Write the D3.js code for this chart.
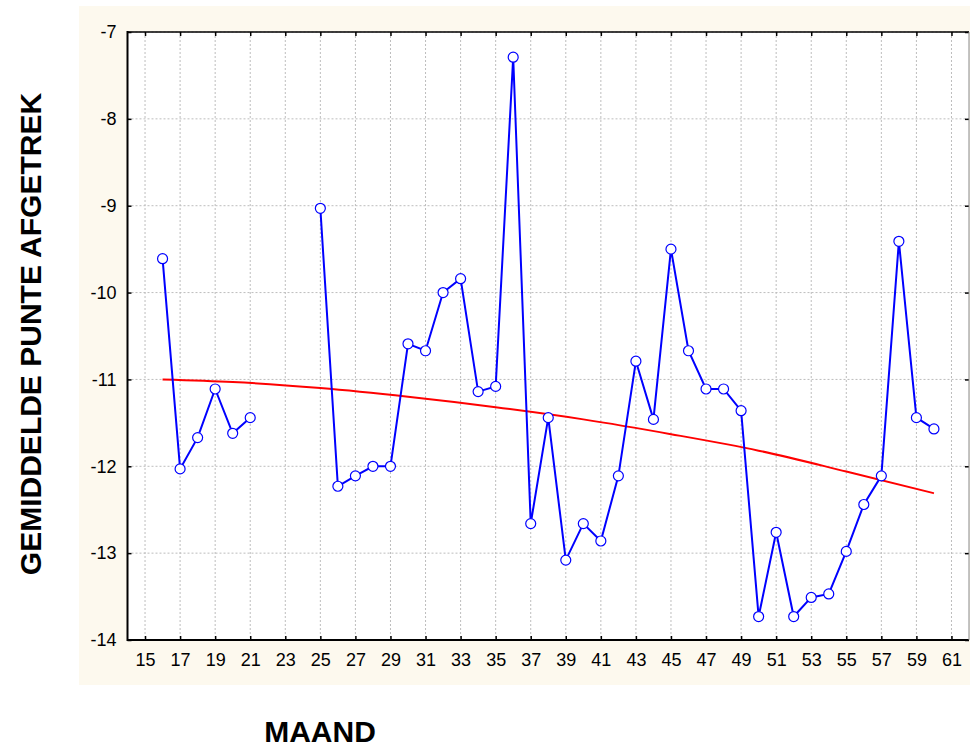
<!DOCTYPE html>
<html>
<head>
<meta charset="utf-8">
<script src="https://cdn.jsdelivr.net/npm/d3@7"></script>
<style>
  body { margin: 0; background: #fff; }
  text { font-family: "Liberation Sans", Arial, sans-serif; }
</style>
</head>
<body>
<svg id="chart" width="970" height="749"></svg>
<script>
// months on the x axis and the mean score per month (null = no value)
var months = [16, 17, 18, 19, 20, 21, 22, 23, 24, 25, 26, 27, 28, 29, 30, 31, 32, 33, 34, 35, 36, 37, 38,
              39, 40, 41, 42, 43, 44, 45, 46, 47, 48, 49, 50, 51, 52, 53, 54, 55, 56, 57, 58, 59, 60];
var scores = [-9.61, -12.03, -11.67, -11.11, -11.62, -11.44, null, null, null, -9.03, -12.23, -12.11, -12.0,
              -12.0, -10.59, -10.67, -10.0, -9.84, -11.14, -11.08, -7.29, -12.66, -11.44, -13.08, -12.66,
              -12.86, -12.11, -10.79, -11.46, -9.5, -10.67, -11.11, -11.11, -11.36, -13.73, -12.76, -13.73,
              -13.51, -13.47, -12.98, -12.44, -12.11, -9.41, -11.44, -11.57];

// trend curve
var trendMonths = [16, 20, 25, 30, 35, 40, 45, 50, 55, 60];
var trendValues = [-11.0, -11.03, -11.1, -11.2, -11.32, -11.46, -11.63, -11.82, -12.06, -12.31];

var xTicks = d3.range(15, 62, 2);
var yTicks = [-14, -13, -12, -11, -10, -9, -8, -7];

var svg = d3.select("#chart");
var plotLeft = 127.5, plotRight = 969, plotTop = 32, plotBottom = 640;

var x = d3.scaleLinear().domain([14, 62]).range([plotLeft, plotRight]);
var y = d3.scaleLinear().domain([-14, -7]).range([plotBottom, plotTop]);

// cream panel
svg.append("rect")
    .attr("x", 79).attr("y", 6)
    .attr("width", 891).attr("height", 679)
    .attr("fill", "#fdf9ee");

svg.append("rect")
    .attr("x", plotLeft).attr("y", plotTop)
    .attr("width", plotRight - plotLeft).attr("height", plotBottom - plotTop)
    .attr("fill", "#fff");

// grid
var grid = svg.append("g")
    .attr("stroke", "#bdbdbd")
    .attr("stroke-dasharray", "2,2")
    .attr("stroke-width", 1);

grid.selectAll(".gx").data(xTicks).enter().append("line")
    .attr("x1", function(d){ return x(d); })
    .attr("x2", function(d){ return x(d); })
    .attr("y1", plotTop).attr("y2", plotBottom);

grid.selectAll(".gy").data(yTicks).enter().append("line")
    .attr("y1", function(d){ return y(d); })
    .attr("y2", function(d){ return y(d); })
    .attr("x1", plotLeft).attr("x2", plotRight);

// axes with inward ticks
function styleAxis(g){
    g.attr("font-size", null).attr("font-family", null);
    g.select(".domain").remove();
    g.selectAll(".tick line").attr("stroke", "#000").attr("stroke-width", 1.5);
    g.selectAll(".tick text")
        .attr("fill", "#000")
        .style("font-size", "18px")
        .style("font-family", "'Liberation Sans', Arial, sans-serif");
}

svg.append("g")
    .attr("transform", "translate(0," + plotBottom + ")")
    .call(d3.axisTop(x).tickValues(xTicks).tickSize(4).tickFormat(""))
    .call(styleAxis);

svg.append("g")
    .attr("transform", "translate(0," + plotBottom + ")")
    .call(d3.axisBottom(x).tickValues(xTicks).tickSize(0).tickPadding(13))
    .call(styleAxis);

svg.append("g")
    .attr("transform", "translate(0," + plotTop + ")")
    .call(d3.axisBottom(x).tickValues(xTicks).tickSize(4).tickFormat(""))
    .call(styleAxis);

svg.append("g")
    .attr("transform", "translate(" + plotLeft + ",0)")
    .call(d3.axisRight(y).tickValues(yTicks).tickSize(4).tickFormat(""))
    .call(styleAxis);

svg.append("g")
    .attr("transform", "translate(" + plotLeft + ",0)")
    .call(d3.axisLeft(y).tickValues(yTicks).tickSize(0).tickPadding(11)
        .tickFormat(function(d){ return String(d).replace("\u2212", "-"); }))
    .call(styleAxis);

svg.append("g")
    .attr("transform", "translate(" + plotRight + ",0)")
    .call(d3.axisLeft(y).tickValues(yTicks).tickSize(4).tickFormat(""))
    .call(styleAxis);

// frame
svg.append("line").attr("x1", plotLeft).attr("x2", plotLeft).attr("y1", plotTop - 1).attr("y2", plotBottom + 1)
    .attr("stroke", "#000").attr("stroke-width", 2);
svg.append("line").attr("x1", plotLeft).attr("x2", plotRight).attr("y1", plotBottom).attr("y2", plotBottom)
    .attr("stroke", "#000").attr("stroke-width", 2);
svg.append("line").attr("x1", plotLeft).attr("x2", plotRight).attr("y1", plotTop).attr("y2", plotTop)
    .attr("stroke", "#000").attr("stroke-width", 1.5);
svg.append("line").attr("x1", plotRight).attr("x2", plotRight).attr("y1", plotTop).attr("y2", plotBottom)
    .attr("stroke", "#888").attr("stroke-width", 1);

// trend
svg.append("path")
    .datum(d3.zip(trendMonths, trendValues))
    .attr("fill", "none")
    .attr("stroke", "#ff0000")
    .attr("stroke-width", 2)
    .attr("d", d3.line()
        .x(function(d){ return x(d[0]); })
        .y(function(d){ return y(d[1]); })
        .curve(d3.curveMonotoneX));

// data line and markers
var pts = d3.zip(months, scores);

svg.append("path")
    .datum(pts)
    .attr("fill", "none")
    .attr("stroke", "#0000ff")
    .attr("stroke-width", 2)
    .attr("d", d3.line()
        .defined(function(d){ return d[1] !== null; })
        .x(function(d){ return x(d[0]); })
        .y(function(d){ return y(d[1]); }));

svg.selectAll(".pt").data(pts.filter(function(d){ return d[1] !== null; }))
    .enter().append("circle")
    .attr("cx", function(d){ return x(d[0]); })
    .attr("cy", function(d){ return y(d[1]); })
    .attr("r", 5)
    .attr("fill", "#fff")
    .attr("stroke", "#0000ff")
    .attr("stroke-width", 1.2);

// titles
svg.append("text")
    .attr("x", 320).attr("y", 742)
    .attr("text-anchor", "middle")
    .style("font-size", "30px").style("font-weight", "bold")
    .text("MAAND");

svg.append("text")
    .attr("transform", "translate(41,334) rotate(-90)")
    .attr("text-anchor", "middle")
    .style("font-size", "30px").style("font-weight", "bold")
    .text("GEMIDDELDE PUNTE AFGETREK");
</script>
</body>
</html>
